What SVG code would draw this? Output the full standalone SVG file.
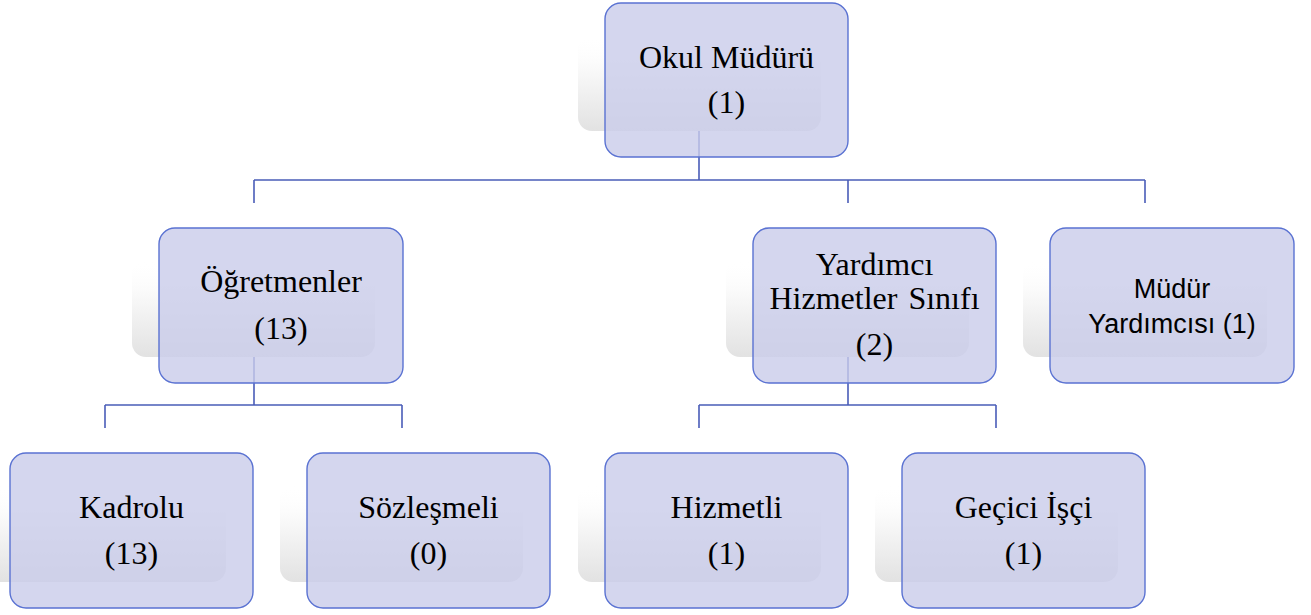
<svg xmlns="http://www.w3.org/2000/svg" width="1311" height="615" viewBox="0 0 1311 615">
<defs>
<linearGradient id="sh" x1="0" y1="0" x2="0" y2="1">
<stop offset="0" stop-color="#ffffff" stop-opacity="0"/>
<stop offset="0.3" stop-color="#fbfbfb" stop-opacity="1"/>
<stop offset="1" stop-color="#e2e2e2"/>
</linearGradient>
<style>
.shadow{fill:url(#sh);}
.box{fill:#c9ccea;fill-opacity:0.8;stroke:#5a72d2;stroke-width:1.4;}
.conn{fill:none;stroke:#4a5db8;stroke-width:1.6;}
.t{font-family:"Liberation Serif","Times New Roman",serif;font-size:32px;fill:#000;text-anchor:middle;}
.s{font-family:"Liberation Sans",Arial,sans-serif;font-size:27px;fill:#000;text-anchor:middle;}
</style>
</defs>
<rect width="1311" height="615" fill="#ffffff"/>
<g id="connectors">
<path class="conn" d="M699 131V180M254 180H1145M254 180V203M848 180V203M1145 180V203"/>
<path class="conn" d="M254 357V405M105 405H402M105 405V428M402 405V428"/>
<path class="conn" d="M848 357V405M699 405H996M699 405V428M996 405V428"/>
</g>
<g id="okul-muduru">
<rect class="shadow" x="578" y="35" width="243" height="96" rx="14"/>
<rect class="box" x="605" y="3" width="243" height="154" rx="16"/>
<text class="t" x="726.5" y="68">Okul Müdürü</text>
<text class="t" x="726.5" y="113">(1)</text>
</g>
<g id="ogretmenler">
<rect class="shadow" x="132" y="260" width="243" height="97" rx="14"/>
<rect class="box" x="159" y="228" width="244" height="155" rx="16"/>
<text class="t" x="281" y="292">Öğretmenler</text>
<text class="t" x="281" y="339">(13)</text>
</g>
<g id="yardimci-hizmetler">
<rect class="shadow" x="726" y="260" width="243" height="97" rx="14"/>
<rect class="box" x="753" y="228" width="243" height="155" rx="16"/>
<text class="t" x="874.5" y="275">Yardımcı</text>
<text class="t" x="874.5" y="309" word-spacing="3">Hizmetler Sınıfı</text>
<text class="t" x="874.5" y="355">(2)</text>
</g>
<g id="mudur-yardimcisi">
<rect class="shadow" x="1023" y="260" width="244" height="97" rx="14"/>
<rect class="box" x="1050" y="228" width="244" height="155" rx="16"/>
<text class="s" x="1172" y="298">Müdür</text>
<text class="s" x="1172" y="333">Yardımcısı (1)</text>
</g>
<g id="kadrolu">
<rect class="shadow" x="-17" y="485" width="243" height="97" rx="14"/>
<rect class="box" x="10" y="453" width="243" height="155" rx="16"/>
<text class="t" x="131.5" y="518">Kadrolu</text>
<text class="t" x="131.5" y="564">(13)</text>
</g>
<g id="sozlesmeli">
<rect class="shadow" x="280" y="485" width="243" height="97" rx="14"/>
<rect class="box" x="307" y="453" width="243" height="155" rx="16"/>
<text class="t" x="428.5" y="518">Sözleşmeli</text>
<text class="t" x="428.5" y="564">(0)</text>
</g>
<g id="hizmetli">
<rect class="shadow" x="578" y="485" width="243" height="97" rx="14"/>
<rect class="box" x="605" y="453" width="243" height="155" rx="16"/>
<text class="t" x="726.5" y="518">Hizmetli</text>
<text class="t" x="726.5" y="564">(1)</text>
</g>
<g id="gecici-isci">
<rect class="shadow" x="875" y="485" width="243" height="97" rx="14"/>
<rect class="box" x="902" y="453" width="243" height="155" rx="16"/>
<text class="t" x="1023.5" y="518">Geçici İşçi</text>
<text class="t" x="1023.5" y="564">(1)</text>
</g>
</svg>
